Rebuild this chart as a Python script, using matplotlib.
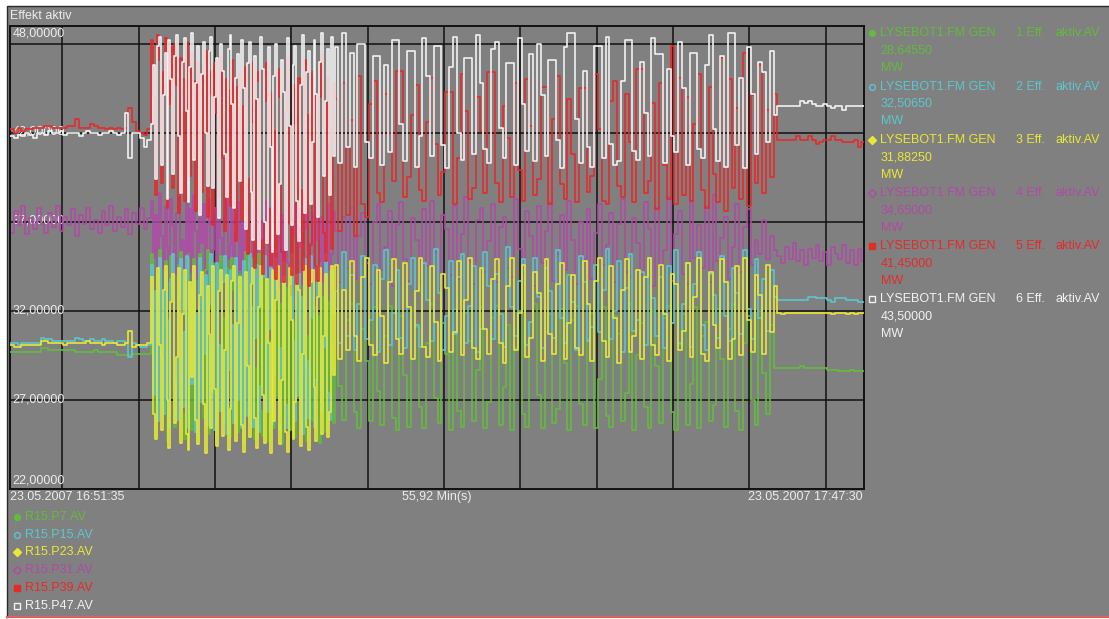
import numpy as np
import matplotlib
matplotlib.use("Agg")
import matplotlib.pyplot as plt
from matplotlib.patches import Rectangle

plt.rcParams['font.family'] = ['Liberation Sans', 'DejaVu Sans']
plt.rcParams['font.size'] = 9

# ---------------------------------------------------------------- data
# time axis in minutes after 23.05.2007 16:51:35
t_pre = 0.25 * np.arange(37)             # 0.0 .. 9.0 min
t_early = 9.25 + 0.125 * np.arange(96)   # 9.25 .. 21.125 min
t_late = 21.25 + 0.25 * np.arange(116)   # 21.25 .. 50.0 min
t_post = 50.25 + 0.25 * np.arange(23)    # 50.25 .. 55.75 min
t_end = 55.92

tags = ["R15.P7.AV", "R15.P15.AV", "R15.P23.AV", "R15.P31.AV", "R15.P39.AV", "R15.P47.AV"]
gen_names = ["LYSEBOT1.FM GEN"] * 6
gen_numbers = ["1 Eff.", "2 Eff.", "3 Eff.", "4 Eff.", "5 Eff.", "6 Eff."]
last_values = ["28,64550", "32,50650", "31,88250", "34,65000", "41,45000", "43,50000"]

# ---- generator 1 (R15.P7)
gen1_pre = [29.7, 29.7, 29.7, 29.7, 29.7, 29.7, 29.7, 29.7, 29.9, 29.9, 29.8, 29.8, 29.8, 29.8, 29.8, 29.8, 29.8, 29.7, 29.7,
            29.7, 29.7, 29.7, 29.8, 29.7, 29.7, 29.7, 29.7, 29.7, 29.5, 29.5, 29.5, 29.5, 29.6, 29.6, 29.6, 29.6, 29.6]
gen1_early = [35.2, 28.6, 25.0, 34.1, 35.4, 26.9, 31.2, 34.8, 24.7, 29.5, 35.1, 33.0, 25.5, 27.8, 34.6, 35.3,
              26.2, 24.8, 33.7, 35.0, 30.4, 25.3, 34.9, 28.1, 24.6, 35.2, 32.5, 26.0, 34.3, 35.4, 25.1, 29.9,
              34.7, 27.4, 24.5, 33.9, 35.1, 31.6, 25.7, 34.4, 26.6, 24.9, 35.0, 33.2, 27.9, 25.2, 34.0, 30.8,
              24.6, 35.3, 32.1, 25.8, 33.5, 34.9, 24.8, 28.8, 35.2, 26.4, 25.0, 34.2, 32.9, 24.7, 30.3, 33.6,
              25.4, 27.2, 33.0, 32.4, 24.5, 29.1, 33.3, 26.1, 25.3, 32.8, 31.4, 24.9, 27.5, 33.1, 25.6, 28.3,
              32.6, 24.7, 30.6, 32.9, 25.9, 26.8, 32.2, 31.7, 24.6, 29.4, 32.8, 25.2, 27.1, 32.5, 30.0, 25.7]
gen1_late = [32.1, 27.8, 25.9, 31.5, 32.4, 26.3, 25.4, 31.0, 29.2, 25.8, 32.2, 27.5,
             25.6, 30.6, 32.3, 26.0, 25.3, 31.7, 28.4, 25.5, 32.0, 31.1, 26.6, 25.4, 30.2, 32.4, 27.1, 25.7, 31.3, 29.6, 25.3, 32.1,
             26.4, 25.5, 31.9, 30.3, 25.8, 28.7, 32.2, 25.4, 26.9, 31.6, 32.3, 25.6, 27.7, 31.2, 25.3, 29.9, 32.0, 26.2, 25.5, 31.4,
             32.4, 27.3, 25.4, 30.8, 31.8, 25.7, 26.5, 32.1, 29.1, 25.3, 31.5, 32.3, 26.8, 25.6, 30.4, 31.9, 25.4, 28.2, 32.2, 26.1,
             25.5, 31.7, 30.7, 25.8, 27.4, 32.4, 25.3, 29.5, 31.3, 26.6, 25.4, 32.0, 28.9, 25.7, 31.6, 32.3, 26.3, 25.3, 30.1, 31.8,
             25.6, 27.9, 32.2, 25.4, 30.6, 31.4, 25.8, 26.7, 32.1, 29.3, 25.5, 31.0, 32.4, 26.4, 25.3, 30.2, 31.7, 27.0, 25.6, 32.0,
             28.5, 26.2, 31.2, 28.8]
gen1_post = [28.8, 28.8, 28.8, 28.8, 28.8, 28.8, 28.9, 28.8, 28.8, 28.8, 28.8, 28.8,
             28.8, 28.7, 28.7, 28.7, 28.6, 28.6, 28.6, 28.7, 28.6, 28.6, 28.6]

# ---- generator 2 (R15.P15)
gen2_pre = [30.2, 30.2, 30.1, 30.2, 30.2, 30.2, 30.2, 30.2, 30.5, 30.4, 30.4, 30.3, 30.3, 30.3, 30.3, 30.3, 30.3, 30.5, 30.4,
            30.3, 30.3, 30.4, 30.3, 30.3, 30.4, 30.3, 30.3, 30.2, 30.3, 30.3, 30.2, 29.4, 30.2, 30.1, 30.0, 30.0, 30.1]
gen2_early = [34.6, 27.3, 33.1, 25.8, 35.0, 29.4, 26.2, 34.2, 31.5, 25.5, 33.8, 35.2, 28.0, 25.9, 32.7, 34.9,
              26.6, 30.8, 35.1, 25.4, 33.3, 27.9, 34.5, 25.2, 31.9, 35.0, 26.9, 29.6, 34.0, 25.6, 32.4, 35.2,
              27.5, 25.3, 34.7, 30.1, 26.4, 33.6, 35.1, 25.1, 28.7, 34.3, 31.2, 25.7, 35.0, 27.0, 33.0, 25.4,
              34.8, 29.0, 26.1, 35.2, 32.2, 25.5, 30.5, 34.6, 25.2, 27.8, 33.9, 35.1, 26.3, 31.0, 34.4, 25.6,
              28.4, 35.0, 33.2, 25.3, 29.9, 34.7, 26.7, 25.4, 33.5, 35.2, 30.3, 25.8, 27.2, 34.1, 32.8, 25.1,
              34.9, 29.2, 26.0, 35.1, 31.6, 25.5, 28.1, 34.5, 33.6, 26.4, 30.0, 35.2, 27.4, 25.9, 34.3, 31.8]
gen2_late = [33.1, 30.2, 35.3, 30.6, 34.0, 29.8, 32.4, 35.1, 30.4, 31.5, 34.6, 29.7,
             33.8, 35.4, 30.1, 31.9, 34.3, 30.5, 29.9, 33.5, 35.0, 31.2, 30.0, 34.7, 32.6, 30.3, 35.5, 33.0, 29.8, 31.7, 34.8, 30.7,
             33.9, 35.2, 30.2, 32.3, 34.5, 29.7, 31.0, 35.3, 33.4, 30.4, 34.1, 31.8, 30.0, 35.6, 32.2, 30.6, 33.7, 34.9, 30.1, 31.4,
             35.0, 32.8, 29.9, 34.4, 33.1, 30.5, 35.4, 31.6, 30.2, 34.0, 32.5, 29.8, 35.1, 33.6, 30.3, 31.1, 34.6, 30.8, 33.2, 35.5,
             30.4, 32.0, 34.8, 29.7, 33.3, 35.2, 30.9, 31.5, 34.2, 30.1, 35.0, 32.7, 30.6, 33.9, 29.9, 34.5, 31.3, 35.4, 30.2, 32.4,
             34.7, 30.0, 33.5, 35.3, 31.2, 29.8, 34.1, 32.9, 30.5, 35.1, 31.7, 30.3, 34.4, 33.0, 30.7, 35.4, 32.1, 30.4, 34.9, 31.6,
             33.8, 30.9, 34.3, 32.8]
gen2_post = [32.6, 32.6, 32.6, 32.6, 32.6, 32.6, 32.6, 32.6, 32.8, 32.8, 32.7, 32.7,
             32.7, 32.6, 32.5, 32.7, 32.7, 32.7, 32.6, 32.6, 32.6, 32.5, 32.5]

# ---- generator 3 (R15.P23)
gen3_pre = [30.1, 30.0, 30.0, 30.1, 30.1, 30.1, 30.1, 30.1, 30.3, 30.3, 30.2, 30.2, 30.2, 30.2, 30.1, 30.2, 30.2, 30.2, 30.2,
            30.2, 30.3, 30.2, 30.2, 30.2, 30.1, 30.2, 30.2, 30.2, 30.1, 30.1, 30.2, 30.9, 30.0, 30.1, 30.1, 30.1, 30.2]
gen3_early = [33.9, 26.2, 24.8, 34.4, 30.1, 25.3, 33.2, 34.5, 27.0, 24.3, 32.5, 34.1, 25.7, 29.4, 34.4, 24.6,
              31.8, 34.3, 25.1, 24.2, 33.6, 28.3, 34.5, 25.9, 24.5, 32.9, 34.2, 26.8, 24.0, 33.4, 30.7, 25.4,
              34.5, 27.6, 24.4, 33.1, 34.3, 25.0, 29.8, 34.0, 24.2, 26.5, 33.7, 34.5, 24.7, 31.3, 33.9, 25.6,
              24.1, 34.2, 28.9, 24.9, 33.5, 34.4, 26.0, 24.3, 32.2, 34.5, 27.3, 24.6, 33.8, 30.2, 24.0, 34.3,
              25.8, 32.6, 34.5, 24.5, 28.1, 33.9, 25.2, 24.1, 34.4, 31.5, 24.8, 26.9, 34.0, 33.2, 24.4, 29.6,
              34.5, 25.5, 24.2, 33.6, 34.3, 27.7, 24.7, 32.8, 34.4, 25.1, 30.6, 34.1, 24.9, 26.3, 34.5, 28.4]
gen3_late = [34.6, 29.3, 33.2, 29.8, 34.8, 30.6, 29.2, 33.9, 35.0, 30.1, 29.5, 34.3,
             31.7, 29.1, 33.6, 34.9, 30.4, 29.6, 34.7, 32.2, 29.3, 33.1, 35.0, 30.0, 29.4, 34.5, 31.4, 29.2, 34.1, 33.3, 29.7, 30.8,
             34.8, 29.5, 32.6, 35.0, 29.9, 29.3, 34.4, 31.0, 29.6, 33.8, 34.9, 30.2, 29.1, 33.4, 35.0, 29.8, 31.9, 34.6, 29.4, 30.5,
             34.2, 33.0, 29.2, 34.9, 30.7, 29.6, 33.5, 34.7, 29.3, 31.3, 34.0, 29.9, 29.5, 34.8, 32.4, 29.2, 33.7, 35.0, 30.3, 29.4,
             34.5, 31.6, 29.1, 33.2, 34.9, 29.7, 30.6, 34.3, 29.3, 33.9, 35.0, 30.1, 29.5, 34.6, 31.8, 29.2, 34.1, 33.5, 29.8, 30.9,
             34.7, 29.4, 32.8, 35.0, 29.6, 29.2, 34.2, 31.2, 29.9, 34.9, 33.6, 29.3, 30.4, 34.5, 29.5, 35.0, 31.5, 29.7, 34.0, 32.9,
             29.6, 34.6, 30.8, 33.4]
gen3_post = [31.9, 31.8, 31.9, 31.9, 31.9, 31.9, 31.9, 31.9, 31.9, 31.9, 31.9, 31.9,
             31.9, 31.9, 31.8, 31.9, 31.9, 31.9, 31.8, 31.9, 31.8, 31.9, 31.9]

# ---- generator 4 (R15.P31)
gen4_pre = [36.4, 37.6, 36.8, 37.9, 36.3, 37.2, 36.6, 37.8, 36.9, 36.4, 37.5, 36.7, 37.9, 36.5, 37.3, 36.8, 37.7, 36.2, 37.4,
            36.9, 37.8, 36.6, 37.1, 36.4, 37.6, 36.8, 37.9, 36.5, 37.3, 36.7, 37.7, 36.3, 37.5, 36.9, 37.8, 36.6, 37.2]
gen4_early = [38.2, 35.0, 37.4, 33.9, 38.6, 36.2, 34.4, 37.9, 35.6, 33.7, 38.3, 36.8, 34.1, 37.5, 38.4, 34.8,
              36.0, 33.6, 38.1, 35.3, 37.7, 34.2, 38.5, 36.5, 33.8, 37.2, 35.8, 38.0, 34.0, 36.9, 38.3, 33.5,
              35.4, 37.8, 34.6, 38.2, 36.1, 33.7, 37.3, 38.5, 34.9, 35.7, 37.9, 33.6, 36.4, 38.1, 34.3, 37.0,
              33.8, 36.7, 38.0, 35.1, 34.0, 37.6, 38.3, 33.5, 35.9, 37.1, 34.5, 38.2, 36.3, 33.9, 37.8, 35.5,
              34.2, 38.1, 36.8, 33.6, 37.4, 35.0, 38.4, 34.7, 33.8, 37.0, 36.2, 38.0, 34.1, 35.6, 37.7, 33.5,
              36.6, 38.2, 34.4, 35.8, 37.5, 33.7, 38.1, 36.0, 34.8, 37.3, 33.6, 36.9, 38.0, 34.3, 35.2, 37.6]
gen4_late = [36.5, 33.6, 37.3, 34.4, 37.8, 33.8, 36.2, 37.5, 34.7, 33.5, 37.0, 38.0,
             34.3, 35.6, 37.6, 33.4, 36.8, 38.1, 34.9, 33.7, 37.2, 36.0, 33.6, 37.7, 34.5, 38.2, 35.3, 33.3, 37.4, 36.6, 34.0, 37.9,
             33.8, 36.3, 38.4, 34.8, 33.5, 37.1, 37.8, 34.2, 35.9, 38.0, 33.6, 36.7, 37.3, 34.4, 33.9, 38.3, 35.5, 34.1, 37.6, 36.2,
             33.4, 37.9, 34.7, 36.5, 38.1, 33.7, 35.2, 37.4, 34.3, 38.2, 36.0, 33.5, 37.0, 34.9, 37.7, 33.8, 36.4, 38.0, 34.6, 35.7,
             37.5, 33.6, 36.9, 38.3, 34.2, 33.9, 37.2, 35.8, 34.0, 38.1, 36.6, 33.4, 37.8, 34.5, 35.4, 38.4, 33.7, 36.3, 37.6, 34.1,
             33.5, 38.2, 35.0, 36.8, 34.4, 37.9, 33.6, 38.5, 34.8, 36.1, 37.3, 33.8, 35.6, 38.0, 34.2, 36.7, 37.7, 34.6, 36.0, 35.2,
             37.1, 34.9, 36.2, 35.4]
gen4_post = [35.1, 34.7, 35.6, 34.9, 35.8, 34.8, 35.4, 34.6, 35.5, 35.0, 35.7, 34.8,
             35.3, 34.6, 35.6, 35.2, 34.9, 35.7, 34.7, 35.4, 34.6, 35.5, 34.8]

# ---- generator 5 (R15.P39)
gen5_pre = [42.2, 42.0, 42.3, 42.1, 42.2, 42.2, 42.3, 42.3, 42.3, 42.4, 42.4, 42.3, 42.3, 42.3, 42.3, 42.4, 42.4, 42.8, 42.3,
            42.3, 42.3, 42.5, 42.4, 42.3, 42.3, 42.2, 42.3, 42.2, 42.3, 42.2, 42.3, 43.4, 42.6, 42.1, 42.0, 41.9, 42.2]
gen5_early = [47.2, 44.0, 38.5, 47.5, 46.1, 39.2, 45.4, 47.3, 37.8, 43.6, 46.8, 38.9, 47.0, 44.7, 37.5, 46.2,
              45.0, 38.2, 47.1, 43.4, 39.6, 46.5, 44.9, 37.6, 46.0, 42.8, 38.7, 45.8, 46.6, 37.3, 44.2, 45.5,
              36.8, 45.9, 43.1, 38.4, 46.3, 40.6, 36.5, 45.0, 44.4, 37.9, 46.1, 41.9, 35.9, 44.6, 45.3, 37.1,
              43.5, 45.7, 35.2, 39.4, 46.0, 42.6, 34.4, 44.9, 45.4, 36.0, 34.1, 43.8, 45.9, 37.7, 34.6, 44.3,
              42.1, 33.8, 45.6, 44.0, 35.3, 33.6, 43.2, 46.2, 36.9, 34.0, 44.7, 42.5, 33.5, 45.1, 38.8, 34.3,
              46.1, 43.0, 33.4, 35.7, 45.4, 44.6, 34.5, 33.7, 44.0, 46.4, 36.4, 34.8, 45.2, 42.3, 35.5, 44.8]
gen5_late = [43.9, 36.5, 44.8, 37.4, 42.7, 36.2, 45.2, 38.0, 37.3, 43.6, 44.9, 38.6,
             38.1, 44.2, 42.0, 39.3, 45.5, 45.5, 38.4, 39.5, 43.0, 44.7, 38.8, 38.2, 42.6, 45.1, 41.4, 38.5, 39.8, 44.3, 44.3, 38.0,
             40.6, 45.3, 43.2, 38.3, 38.9, 44.0, 42.1, 38.6, 45.4, 45.4, 39.2, 38.1, 43.5, 41.7, 38.4, 44.8, 39.9, 38.2, 45.0, 42.4,
             38.5, 39.4, 44.6, 44.6, 38.0, 42.8, 45.2, 39.1, 38.3, 43.9, 40.8, 38.1, 44.5, 44.5, 38.7, 39.6, 45.3, 42.2, 38.2, 38.0,
             43.8, 44.9, 39.0, 38.4, 44.2, 41.5, 38.1, 45.6, 45.6, 38.6, 39.3, 43.7, 37.7, 44.8, 40.2, 38.3, 46.9, 38.0, 45.1, 38.5,
             44.0, 38.2, 42.5, 45.3, 38.8, 37.8, 44.6, 39.7, 38.1, 46.2, 37.6, 45.0, 38.9, 43.4, 38.3, 46.5, 37.9, 44.1, 39.2, 45.8,
             38.6, 43.3, 39.5, 44.2]
gen5_post = [41.6, 41.6, 41.6, 41.6, 41.6, 41.8, 41.6, 41.6, 41.8, 41.6, 41.4, 41.5,
             41.6, 41.6, 41.8, 41.6, 41.6, 41.5, 41.5, 41.5, 41.6, 41.2, 41.5]

# ---- generator 6 (R15.P47)
gen6_pre = [41.8, 41.7, 41.9, 41.8, 42.0, 41.9, 41.7, 42.0, 42.0, 41.9, 42.1, 42.0, 42.0, 42.1, 41.9, 42.0, 42.0, 42.0, 41.8,
            42.0, 42.1, 42.0, 42.0, 41.9, 42.0, 42.0, 42.1, 42.0, 41.9, 42.0, 43.1, 40.6, 42.0, 42.0, 41.7, 41.2, 41.6]
gen6_early = [42.5, 45.8, 39.4, 46.9, 47.4, 40.2, 44.1, 46.5, 38.3, 47.2, 45.0, 39.7, 46.3, 47.5, 41.8, 38.6,
              46.0, 47.3, 43.2, 38.1, 45.7, 47.6, 40.5, 44.8, 46.9, 37.4, 45.3, 47.1, 42.0, 39.0, 46.6, 47.4,
              38.9, 44.0, 46.2, 37.2, 47.0, 45.5, 40.8, 38.4, 46.7, 47.5, 43.6, 37.8, 45.1, 46.4, 39.3, 47.2,
              44.5, 36.6, 45.9, 47.1, 38.7, 36.0, 46.3, 43.9, 35.5, 47.4, 45.6, 37.0, 35.8, 46.8, 41.2, 35.3,
              45.2, 47.0, 36.3, 39.1, 46.1, 44.3, 35.4, 47.3, 42.4, 36.8, 45.8, 46.9, 38.2, 35.9, 44.7, 47.5,
              37.5, 45.4, 46.6, 38.0, 41.5, 47.2, 44.2, 37.3, 46.0, 47.6, 39.6, 43.8, 46.7, 38.5, 47.4, 40.7]
gen6_late = [46.8, 40.3, 47.6, 41.2, 46.5, 40.1, 47.0, 47.0, 41.5, 40.6, 46.3, 46.3,
             40.2, 45.8, 40.9, 47.2, 47.2, 42.5, 40.4, 46.6, 46.6, 40.1, 41.8, 47.3, 45.2, 40.7, 46.9, 46.9, 41.3, 40.0, 45.7, 47.4,
             42.0, 40.5, 46.2, 46.2, 40.8, 47.5, 44.8, 41.1, 40.3, 46.7, 47.1, 42.3, 40.6, 45.9, 45.9, 40.2, 47.3, 43.6, 41.0, 46.4,
             40.4, 47.0, 44.1, 40.7, 46.1, 46.1, 41.6, 40.0, 46.8, 47.6, 47.6, 42.8, 40.3, 45.5, 41.2, 40.1, 46.9, 46.9, 40.6, 47.4,
             41.4, 40.2, 40.4, 44.9, 47.2, 47.2, 41.0, 40.5, 46.0, 43.1, 40.7, 47.3, 46.4, 46.4, 40.3, 45.6, 41.8, 40.9, 47.1, 44.5,
             40.2, 46.5, 46.5, 41.1, 40.6, 45.8, 47.5, 42.2, 40.4, 46.3, 40.1, 47.6, 47.6, 41.3, 45.1, 40.0, 46.8, 44.2, 40.8, 46.0,
             45.4, 41.5, 46.6, 43.0]
gen6_post = [43.5, 43.5, 43.5, 43.5, 43.5, 43.5, 43.8, 43.7, 43.8, 43.6, 43.5, 43.5,
             43.6, 43.5, 43.4, 43.5, 43.5, 43.3, 43.5, 43.5, 43.5, 43.5, 43.5]

y_label_values = [48, 42, 37, 32, 27, 22]

# ---------------------------------------------------------------- styling
BG = "#808080"
TXT = "#ececec"
colors = ["#62bb3c", "#5cc6cf", "#e9e734", "#b04aa6", "#e52a2a", "#f2f2f2"]
markers = [("o", True), ("o", False), ("D", True), ("D", False), ("s", True), ("s", False)]

W, H = 1109, 619
fig = plt.figure(figsize=(W / 100, H / 100), dpi=100)
fig.patch.set_facecolor(BG)

# plot area (pixel box)
L, R, T, B = 10, 864, 26, 489
ax = fig.add_axes([L / W, 1 - B / H, (R - L) / W, (B - T) / H])
ax.set_facecolor(BG)
ax.set_xlim(0, t_end)
ax.set_ylim(22, 48)
grid_x = 3 + 25 / 60 + 5 * np.arange(11)    # every 5 min from 16:55:00
ax.set_xticks(grid_x)
ax.set_yticks([27, 32, 37, 42, 47])
ax.tick_params(length=0, labelbottom=False, labelleft=False)
ax.grid(True, color="#111111", linewidth=1.1)
ax.set_axisbelow(True)
for s in ax.spines.values():
    s.set_color("#111111")
    s.set_linewidth(1.4)

# value labels inside the plot
for v in y_label_values:
    if v == 48:
        yy = 47.6
    elif v == 22:
        yy = 22.5
    else:
        yy = v + 0.05
    ax.text(0.003, yy, f"{v:.5f}".replace(".", ","), transform=ax.get_yaxis_transform(),
            color=TXT, va="center", ha="left", fontsize=9, zorder=0.8)

series = [
    (gen1_pre, gen1_early, gen1_late, gen1_post),
    (gen2_pre, gen2_early, gen2_late, gen2_post),
    (gen3_pre, gen3_early, gen3_late, gen3_post),
    (gen4_pre, gen4_early, gen4_late, gen4_post),
    (gen5_pre, gen5_early, gen5_late, gen5_post),
    (gen6_pre, gen6_early, gen6_late, gen6_post),
]
t_all = np.concatenate([t_pre, t_early, t_late, t_post, [t_end]])
draw_order = [3, 0, 1, 2, 4, 5]
for k, idx in enumerate(draw_order):
    pre, early, late, post = series[idx]
    for seg, ts in zip((pre, early, late, post), (t_pre, t_early, t_late, t_post)):
        assert len(seg) == len(ts), (idx, len(seg), len(ts))
    v = np.concatenate([pre, early, late, post, [post[-1]]])
    ax.step(t_all, v, where="post", color=colors[idx], linewidth=1.2, zorder=2 + k)

# overlay in pixel coordinates for captions and legends
ov = fig.add_axes([0, 0, 1, 1], facecolor="none")
ov.set_xlim(0, W)
ov.set_ylim(H, 0)
ov.axis("off")

# outer panel border
ov.add_patch(Rectangle((0, 0), W, 6, facecolor="white", edgecolor="none"))
ov.add_patch(Rectangle((0, 0), 7, H, facecolor="white", edgecolor="none"))
ov.plot([7, 7, W], [H - 2, 6, 6], color="#2a2a2a", linewidth=1.0)
ov.plot([7, W], [617, 617], color="#e06060", linewidth=1.6)
ov.add_patch(Rectangle((0, 618), W, 2, facecolor="white", edgecolor="none"))

ov.text(10, 16, "Effekt aktiv", color=TXT, va="center", ha="left", fontsize=9)

# time caption line
ov.text(10, 497.3, "23.05.2007 16:51:35", color=TXT, va="center", ha="left", fontsize=9)
ov.text(437, 497.3, "55,92 Min(s)", color=TXT, va="center", ha="center", fontsize=9)
ov.text(863, 497.3, "23.05.2007 17:47:30", color=TXT, va="center", ha="right", fontsize=9)


def legend_marker(x, y, i):
    m, filled = markers[i]
    ms = 4.2 if m != "D" else 3.8
    ov.plot([x], [y], marker=m, markersize=ms, markeredgewidth=1.0,
            markerfacecolor=colors[i] if filled else "none", markeredgecolor=colors[i], linestyle="none")


# right legend
for i in range(6):
    y0 = 33.3 + 53.2 * i
    legend_marker(872, y0, i)
    ov.text(880.5, y0, gen_names[i], color=colors[i], va="center", ha="left", fontsize=9)
    ov.text(1016.5, y0, gen_numbers[i], color=colors[i], va="center", ha="left", fontsize=9)
    ov.text(1055, y0, "aktiv.AV", color=colors[i], va="center", ha="left", fontsize=9)
    ov.text(880.5, y0 + 17.5, last_values[i], color=colors[i], va="center", ha="left", fontsize=9)
    ov.text(880.5, y0 + 35, "MW", color=colors[i], va="center", ha="left", fontsize=9)

# bottom legend
for i in range(6):
    y0 = 516.7 + 17.8 * i
    legend_marker(17, y0, i)
    ov.text(25, y0, tags[i], color=colors[i], va="center", ha="left", fontsize=9)

fig.savefig("out.png", dpi=100, facecolor=fig.get_facecolor())
